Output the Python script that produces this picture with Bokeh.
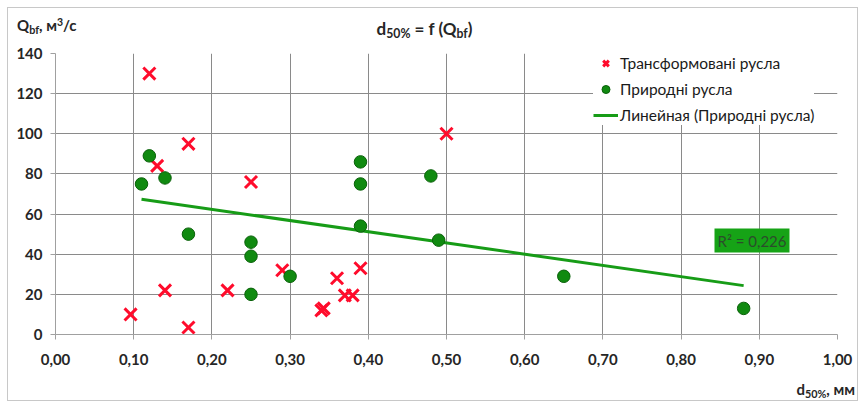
import numpy as np
from bokeh.plotting import figure
from bokeh.layouts import column
from bokeh.models import Label, Legend, LegendItem, FixedTicker, Range1d, Div
from bokeh.embed import file_html
from bokeh.resources import INLINE

# ---- data ----
trans_x = [0.096, 0.12, 0.13, 0.14, 0.17, 0.17, 0.22, 0.25, 0.29, 0.34, 0.343, 0.36, 0.37, 0.38, 0.39, 0.50]
trans_y = [10, 130, 84, 22, 95, 3.5, 22, 76, 32, 12, 13, 28, 19.5, 19.5, 33, 100]
nat_x = [0.11, 0.12, 0.14, 0.17, 0.25, 0.25, 0.25, 0.30, 0.39, 0.39, 0.39, 0.48, 0.49, 0.65, 0.88]
nat_y = [75, 89, 78, 50, 46, 39, 20, 29, 86, 75, 54, 79, 47, 29, 13]
x_ticks = [0.0, 0.1, 0.2, 0.3, 0.4, 0.5, 0.6, 0.7, 0.8, 0.9, 1.0]
y_ticks = [0, 20, 40, 60, 80, 100, 120, 140]
legend_labels = ["Трансформовані русла", "Природні русла", "Линейная (Природні русла)"]
r2_text = "R² = 0,226"
title_html = "d<sub>50%</sub> = f (Q<sub>bf</sub>)"
ytitle_html = "Q<sub>bf</sub>, м<sup>3</sup>/с"
xtitle_html = "d<sub>50%</sub>, мм"

FONT = "Lato"
GRID = "#8a8a8a"
W = 849

p = figure(width=W, height=329, output_backend="svg", toolbar_location=None,
           x_range=Range1d(0, 1.0), y_range=Range1d(0, 140),
           min_border_left=47, min_border_right=20, min_border_top=8, min_border_bottom=40)
p.outline_line_color = None
p.background_fill_color = "white"
p.border_fill_color = "white"
p.margin = 0

# axes
p.xaxis.ticker = FixedTicker(ticks=x_ticks)
p.yaxis.ticker = FixedTicker(ticks=y_ticks)
p.xaxis.major_label_overrides = {t: f"{t:.2f}".replace(".", ",") for t in x_ticks}
p.yaxis.major_label_overrides = {t: str(t) for t in y_ticks}
for ax in (p.xaxis, p.yaxis):
    ax.axis_line_color = "#a0a0a0"
    ax.major_tick_line_color = "#a0a0a0"
    ax.major_tick_out = 5
    ax.major_tick_in = 0
    ax.minor_tick_line_color = None
    ax.major_label_text_font = FONT
    ax.major_label_text_font_style = "bold"
    ax.major_label_text_font_size = "15px"
    ax.major_label_text_color = "#262626"
p.xaxis.major_label_standoff = 14
p.yaxis.major_label_standoff = 8

p.xgrid.ticker = FixedTicker(ticks=x_ticks)
p.ygrid.ticker = FixedTicker(ticks=y_ticks)
p.grid.grid_line_color = GRID
p.grid.grid_line_width = 1

# trend line from linear regression of natural channels
k, b = np.polyfit(nat_x, nat_y, 1)
tx = [min(nat_x), max(nat_x)]
ty = [k * v + b for v in tx]

r_line = p.line(tx, ty, line_color="#179c17", line_width=3)
r_trans = p.scatter(trans_x, trans_y, marker="x", size=17, line_width=3, line_color="#ff0c2c")
r_nat = p.scatter(nat_x, nat_y, marker="circle", size=12.5, fill_color="#108a10", line_color="#0a610a", line_width=1)

legend = Legend(items=[
    LegendItem(label=legend_labels[0], renderers=[r_trans]),
    LegendItem(label=legend_labels[1], renderers=[r_nat]),
    LegendItem(label=legend_labels[2], renderers=[r_line]),
], location=(538, 209), margin=0, padding=8, spacing=6,
    glyph_width=25, glyph_height=20, label_standoff=2,
    label_text_font=FONT, label_text_font_size="15.5px", label_text_color="#1a1a1a",
    border_line_color=None, background_fill_color="white", background_fill_alpha=1.0)
p.add_layout(legend)

# r^2 box
p.add_layout(Label(x=659, y=94, x_units="screen", y_units="screen", text=r2_text,
                   text_font=FONT, text_font_size="15px", text_color="#2b4d2b",
                   text_baseline="middle", text_align="left",
                   background_fill_color="#16a316", padding=3))

base = f"font-family:{FONT};font-weight:bold;color:#262626;position:absolute;line-height:1;white-space:nowrap;"
sub = "font-size:72%;vertical-align:-0.25em;line-height:0;"
sup = "font-size:70%;vertical-align:0.45em;line-height:0;"

def fmt(h):
    return h.replace("<sub>", f'<sub style="{sub}">').replace("<sup>", f'<sup style="{sup}">')

top_div = Div(width=W, height=37, margin=0, text=(
    f'<div style="position:relative;width:{W}px;height:37px;">'
    f'<span style="{base}left:9px;top:10px;font-size:15px;">{fmt(ytitle_html)}</span>'
    f'<span style="{base}left:-8px;width:{W}px;text-align:center;top:12px;font-size:17px;">{fmt(title_html)}</span>'
    f'</div>'))

bottom_div = Div(width=W, height=26, margin=0, text=(
    f'<div style="position:relative;width:{W}px;height:26px;">'
    f'<span style="{base}right:2px;top:8px;font-size:15px;">{fmt(xtitle_html)}</span>'
    f'</div>'))

layout = column(top_div, p, bottom_div, spacing=0,
                styles={"border": "1px solid #c8c8c8", "margin-left": "7px", "margin-top": "7px",
                        "background-color": "white"})

open("out.html", "w").write(file_html(layout, INLINE))
